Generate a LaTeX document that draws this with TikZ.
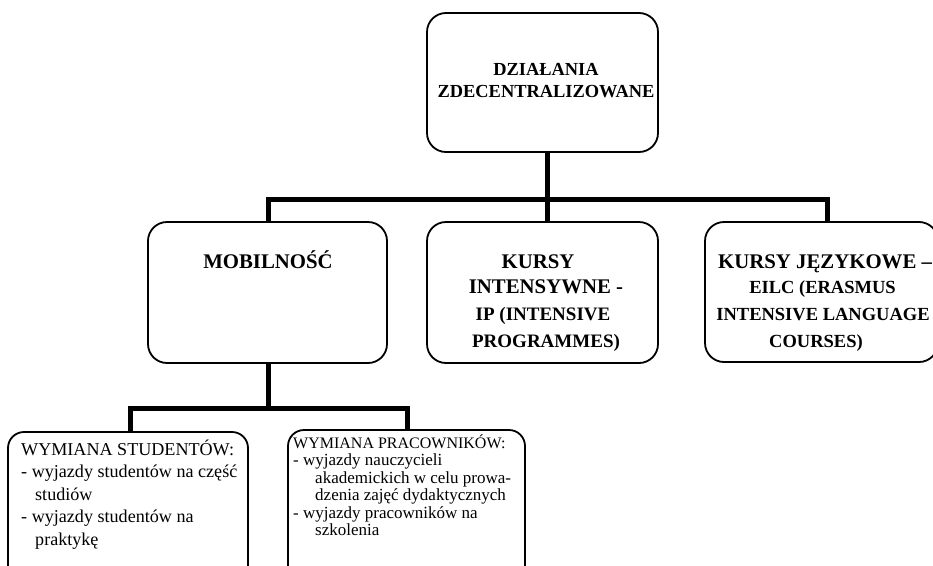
\documentclass[tikz,border=0pt]{standalone}
\usepackage{fontspec}
\setmainfont{Liberation Serif}
\begin{document}
\begin{tikzpicture}[x=1pt,y=-1pt,
  box/.style={draw,line width=1.8pt,rounded corners=19pt,minimum width=#1,inner sep=0pt},
  conn/.style={line width=5pt,line join=miter,line cap=butt},
  hb/.style={font=\fontsize{#1}{#1}\selectfont\bfseries,inner sep=0pt,anchor=base},
  tx/.style={font=\fontsize{#1}{#1}\selectfont,inner sep=0pt,anchor=base west}]
\useasboundingbox (0,0) rectangle (933,565);
\clip (0,0) rectangle (933,565);

% boxes
\node[box=231pt,minimum height=139pt] (top) at (542.5,82.5) {};
\node[box=239pt,minimum height=141pt] (mob) at (267.5,292.5) {};
\node[box=231pt,minimum height=141pt] (ki) at (542.5,292.5) {};
\node[box=233pt,minimum height=140pt] (kj) at (821.5,292) {};
\node[box=240pt,minimum height=170pt,rounded corners=16pt] (stud) at (128,517) {};
\node[box=237pt,minimum height=172pt,rounded corners=16pt] (prac) at (406.5,516) {};

% connectors, first level
\coordinate (j0) at (547,199);
\coordinate (jL) at (268,199);
\coordinate (jR) at (827,199);
\draw[conn] (top.south -| j0) -- (j0);
\draw[conn] (mob.north -| jL) -- (jL) -- (jR) -- (kj.north -| jR);
\draw[conn] (j0) -- (ki.north -| j0);

% connectors, second level
\coordinate (k0) at (268,408);
\coordinate (kL) at (130,408);
\coordinate (kR) at (407,408);
\draw[conn] (mob.south -| k0) -- (k0);
\draw[conn] (stud.north -| kL) -- (kL) -- (kR) -- (prac.north -| kR);

% texts
\node[hb=18.4] (t1) at (546,75) {DZIAŁANIA};
\node[hb=18.4] (t2) at (546,97) {ZDECENTRALIZOWANE};

\node[hb=20.8] (m1) at (268,268) {MOBILNOŚĆ};

\node[hb=20.8] (i1) at (538,268) {KURSY};
\node[hb=20.8] (i2) at (546,293) {INTENSYWNE -};
\node[hb=19] (i3) at (543,320) {IP (INTENSIVE};
\node[hb=19] (i4) at (546,347) {PROGRAMMES)};

\node[hb=20.8,anchor=base west] (l1) at (718,268) {KURSY JĘZYKOWE –};
\node[hb=18.5] (l2) at (822.5,293) {EILC (ERASMUS};
\node[hb=18.5] (l3) at (823,320) {INTENSIVE LANGUAGE};
\node[hb=18.5] (l4) at (816,347) {COURSES)};

\node[tx=18.1] (s1) at (21,455) {WYMIANA STUDENTÓW:};
\node[tx=18.1] (s2) at (21,477) {- wyjazdy studentów na część};
\node[tx=18.1] (s3) at (35,500) {studiów};
\node[tx=18.1] (s4) at (21,522) {- wyjazdy studentów na};
\node[tx=18.1] (s5) at (35,545) {praktykę};

\node[tx=16] (p1) at (293,448) {WYMIANA PRACOWNIKÓW:};
\node[tx=17] (p2) at (293,465.5) {- wyjazdy nauczycieli};
\node[tx=17] (p3) at (315,483) {akademickich w celu prowa-};
\node[tx=17] (p4) at (315,500.5) {dzenia zajęć dydaktycznych};
\node[tx=17] (p5) at (293,518) {- wyjazdy pracowników na};
\node[tx=17] (p6) at (315,535.5) {szkolenia};
\end{tikzpicture}
\end{document}
